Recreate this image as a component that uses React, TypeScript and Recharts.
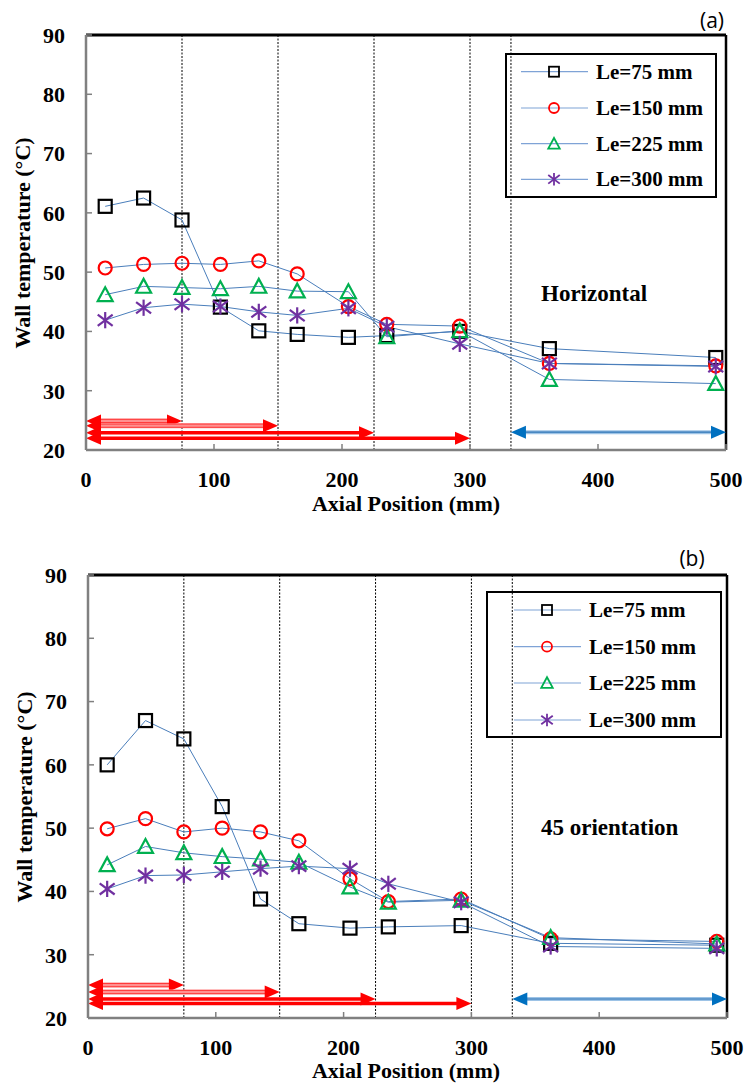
import React from 'react';
import { LineChart, Line, XAxis, YAxis, ReferenceLine, Customized } from 'recharts';

// ---------- data ----------
const positions = [15, 45, 75, 105, 135, 165, 205, 235, 292, 362, 492];

const horiz75 = [61.1, 62.5, 58.8, 44.1, 40.1, 39.5, 39.0, 39.3, 40.0, 37.1, 35.6];
const horiz150 = [50.7, 51.3, 51.5, 51.3, 51.9, 49.7, 44.2, 41.2, 40.9, 34.6, 34.2];
const horiz225 = [46.2, 47.6, 47.4, 47.2, 47.6, 46.8, 46.7, 39.1, 40.1, 31.9, 31.2];
const horiz300 = [41.9, 44.0, 44.6, 44.2, 43.3, 42.7, 43.9, 40.8, 37.9, 34.6, 34.1];

const incl75 = [60.0, 67.0, 64.1, 53.4, 38.8, 34.9, 34.2, 34.4, 34.6, 31.8, 31.5];
const incl150 = [49.9, 51.5, 49.4, 50.0, 49.4, 48.0, 42.0, 38.4, 38.8, 32.5, 32.1];
const incl225 = [44.2, 47.1, 46.1, 45.5, 45.1, 44.6, 40.7, 38.3, 38.6, 32.7, 31.7];
const incl300 = [40.4, 42.5, 42.6, 43.1, 43.6, 44.0, 43.6, 41.2, 38.3, 31.3, 31.0];

const seriesKeys = ['le75', 'le150', 'le225', 'le300'];
const seriesNames = ['Le=75 mm', 'Le=150 mm', 'Le=225 mm', 'Le=300 mm'];

const xTicks = [0, 100, 200, 300, 400, 500];
const yTicks = [20, 30, 40, 50, 60, 70, 80, 90];

const sectionBounds = [75, 150, 225, 300, 332];
const evapLengths = [75, 150, 225, 300];
const evapArrowYsA = [24.9, 24.1, 22.9, 22.0];
const evapArrowYsB = [25.2, 24.1, 23.0, 22.3];
const condenserRange = [332, 500];
const condenserArrowY = 23;

// ---------- styles ----------
const SERIF = 'Liberation Serif';
const LINE_COLOR = '#4A7EBB';
const COLORS = { sq: '#000000', ci: '#FF0000', tr: '#00B050', st: '#7030A0' };

const buildRows = (a: number[], b: number[], c: number[], d: number[]) =>
  positions.map((x, i) => ({ x, le75: a[i], le150: b[i], le225: c[i], le300: d[i] }));

const horizRows = buildRows(horiz75, horiz150, horiz225, horiz300);
const inclRows = buildRows(incl75, incl150, incl225, incl300);

// ---------- markers ----------
const drawMarker = (kind: number, cx: number, cy: number, s: number, sw: number, key?: string) => {
  if (kind === 0) {
    return (
      <rect key={key} x={cx - s} y={cy - s} width={2 * s} height={2 * s} fill="none" stroke={COLORS.sq} strokeWidth={sw} />
    );
  }
  if (kind === 1) {
    return <circle key={key} cx={cx} cy={cy} r={s} fill="none" stroke={COLORS.ci} strokeWidth={sw} />;
  }
  if (kind === 2) {
    const h = s * 1.15;
    return (
      <polygon
        key={key}
        points={`${cx},${cy - h} ${cx - h},${cy + h * 0.85} ${cx + h},${cy + h * 0.85}`}
        fill="none"
        stroke={COLORS.tr}
        strokeWidth={sw}
        strokeLinejoin="miter"
      />
    );
  }
  const v = s * 1.25;
  const d = s * 1.15;
  return (
    <g key={key} stroke={COLORS.st} strokeWidth={sw}>
      <line x1={cx} y1={cy - v} x2={cx} y2={cy + v} />
      <line x1={cx - d} y1={cy - d * 0.75} x2={cx + d} y2={cy + d * 0.75} />
      <line x1={cx - d} y1={cy + d * 0.75} x2={cx + d} y2={cy - d * 0.75} />
    </g>
  );
};

const makeDot = (kind: number) => (props: any) => {
  const { cx, cy, index } = props;
  if (cx == null || cy == null) return <g key={`e-${kind}-${index}`} />;
  return drawMarker(kind, cx, cy, 6.5, 2.2, `m-${kind}-${index}`);
};

// ---------- arrows ----------
const makeArrow = (kind: 'light' | 'solid' | 'blue') => (props: any) => {
  const { x1, y1, x2 } = props;
  const left = Math.min(x1, x2);
  const right = Math.max(x1, x2);
  const y = y1;
  const hl = 15;
  const hh = 6.5;
  const headColor = kind === 'blue' ? '#0070C0' : '#FF0000';
  let body: React.ReactNode;
  if (kind === 'light') {
    body = (
      <g>
        <line x1={left + hl - 2} y1={y} x2={right - hl + 2} y2={y} stroke="#FF9090" strokeWidth={5} />
        <line x1={left + hl - 2} y1={y - 1.6} x2={right - hl + 2} y2={y - 1.6} stroke="#FF3030" strokeWidth={0.9} />
        <line x1={left + hl - 2} y1={y + 1.6} x2={right - hl + 2} y2={y + 1.6} stroke="#FF3030" strokeWidth={0.9} />
      </g>
    );
  } else if (kind === 'solid') {
    body = <line x1={left + hl - 2} y1={y} x2={right - hl + 2} y2={y} stroke="#FF0000" strokeWidth={3.5} />;
  } else {
    body = (
      <g>
        <line x1={left + hl - 2} y1={y} x2={right - hl + 2} y2={y} stroke="#9DC3E6" strokeWidth={4} />
        <line x1={left + hl - 2} y1={y} x2={right - hl + 2} y2={y} stroke="#2E75B6" strokeWidth={1.2} />
      </g>
    );
  }
  return (
    <g>
      {body}
      <polygon points={`${left},${y} ${left + hl},${y - hh} ${left + hl},${y + hh}`} fill={headColor} />
      <polygon points={`${right},${y} ${right - hl},${y - hh} ${right - hl},${y + hh}`} fill={headColor} />
    </g>
  );
};

// ---------- decorations (legend, titles) ----------
type Deco = {
  panelLabel: string;
  panelLabelX: number;
  panelLabelY: number;
  legendBox: [number, number, number, number];
  legendRows: number[];
  legendLine: [number, number];
  legendMarkerX: number;
  legendTextX: number;
  note: string;
  noteX: number;
  noteY: number;
  yTitleX: number;
  yTitleY: number;
  xTitleX: number;
  xTitleY: number;
};

const serifBold = { fontFamily: SERIF, fontWeight: 700 } as React.CSSProperties;

const Decorations = (d: Deco) => () => (
  <g>
    <text x={d.panelLabelX} y={d.panelLabelY} textAnchor="middle" dominantBaseline="central"
      style={{ fontFamily: 'Open Sans' }} fontSize={21} fill="#000">{d.panelLabel}</text>
    <rect x={d.legendBox[0]} y={d.legendBox[1]} width={d.legendBox[2]} height={d.legendBox[3]}
      fill="#fff" stroke="#000" strokeWidth={2} />
    {seriesNames.map((name, i) => (
      <g key={name}>
        <line x1={d.legendLine[0]} y1={d.legendRows[i]} x2={d.legendLine[1]} y2={d.legendRows[i]} stroke="#7FA3D6" strokeWidth={1.2} />
        {drawMarker(i, d.legendMarkerX, d.legendRows[i], 5, 1.8)}
        <text x={d.legendTextX} y={d.legendRows[i]} dominantBaseline="central" style={serifBold}
          fontSize={21} fill="#000">{name}</text>
      </g>
    ))}
    <text x={d.noteX} y={d.noteY} dominantBaseline="central" style={serifBold}
      fontSize={23} fill="#000">{d.note}</text>
    <text x={d.yTitleX} y={d.yTitleY} textAnchor="middle" dominantBaseline="central"
      transform={`rotate(-90 ${d.yTitleX} ${d.yTitleY})`} style={serifBold}
      fontSize={22} fill="#000">Wall temperature (°C)</text>
    <text x={d.xTitleX} y={d.xTitleY} textAnchor="middle" dominantBaseline="central" style={serifBold}
      fontSize={22} fill="#000">Axial Position (mm)</text>
  </g>
);

const tickStyle = { fill: '#000', fontSize: 22, style: serifBold } as any;

type PanelProps = {
  rows: any[];
  height: number;
  margin: { top: number; right: number; bottom: number; left: number };
  arrowYs: number[];
  deco: Deco;
};

const Panel = ({ rows, height, margin, arrowYs, deco }: PanelProps) => (
  <LineChart width={748} height={height} data={rows} margin={margin}>
    <XAxis
      type="number"
      dataKey="x"
      domain={[0, 500]}
      ticks={xTicks}
      interval={0}
      height={40}
      tickSize={-6}
      tickMargin={27}
      axisLine={{ stroke: '#808080', strokeWidth: 2.5 }}
      tickLine={{ stroke: '#808080', strokeWidth: 1.5 }}
      tick={tickStyle}
    />
    <YAxis
      type="number"
      domain={[20, 90]}
      ticks={yTicks}
      interval={0}
      width={66}
      tickSize={-6}
      tickMargin={27}
      axisLine={{ stroke: '#808080', strokeWidth: 2.5 }}
      tickLine={{ stroke: '#808080', strokeWidth: 1.5 }}
      tick={tickStyle}
    />
    {sectionBounds.map((b) => (
      <ReferenceLine key={`sb-${b}`} x={b} stroke="#000" strokeWidth={1} strokeDasharray="2 1.5" />
    ))}
    <ReferenceLine y={90} stroke="#000" strokeWidth={3} />
    <ReferenceLine x={500} stroke="#000" strokeWidth={2.5} />
    {evapLengths.map((len, i) => (
      <ReferenceLine
        key={`ev-${len}`}
        segment={[{ x: 0, y: arrowYs[i] }, { x: len, y: arrowYs[i] }]}
        shape={makeArrow(i < 2 ? 'light' : 'solid')}
      />
    ))}
    <ReferenceLine
      segment={[{ x: condenserRange[0], y: condenserArrowY }, { x: condenserRange[1], y: condenserArrowY }]}
      shape={makeArrow('blue')}
    />
    {seriesKeys.map((k, i) => (
      <Line
        key={k}
        dataKey={k}
        name={seriesNames[i]}
        stroke={LINE_COLOR}
        strokeWidth={1}
        dot={makeDot(i)}
        activeDot={false}
        isAnimationActive={false}
      />
    ))}
    <Customized component={Decorations(deco)} />
  </LineChart>
);

const decoA: Deco = {
  panelLabel: '(a)',
  panelLabelX: 712,
  panelLabelY: 20,
  legendBox: [506, 54, 210, 143],
  legendRows: [71.7, 108, 143.7, 179.3],
  legendLine: [521, 588],
  legendMarkerX: 554,
  legendTextX: 596,
  note: 'Horizontal',
  noteX: 541,
  noteY: 293,
  yTitleX: 22,
  yTitleY: 243,
  xTitleX: 406,
  xTitleY: 503,
};

const decoB: Deco = {
  panelLabel: '(b)',
  panelLabelX: 692,
  panelLabelY: 18,
  legendBox: [487, 52, 234, 145],
  legendRows: [70, 106.7, 143, 180],
  legendLine: [514, 581],
  legendMarkerX: 547,
  legendTextX: 589,
  note: '45 orientation',
  noteX: 541,
  noteY: 287,
  yTitleX: 24,
  yTitleY: 257,
  xTitleX: 406,
  xTitleY: 530,
};

export default function App() {
  return (
    <div style={{ position: 'absolute', left: 0, top: 0, width: 748, height: 1084, background: '#fff' }}>
      <div style={{ position: 'absolute', left: 0, top: 0 }}>
        <Panel rows={horizRows} height={520} margin={{ top: 35, right: 22, bottom: 30, left: 20 }}
          arrowYs={evapArrowYsA} deco={decoA} />
      </div>
      <div style={{ position: 'absolute', left: 0, top: 540 }}>
        <Panel rows={inclRows} height={544} margin={{ top: 35, right: 21, bottom: 26, left: 22 }}
          arrowYs={evapArrowYsB} deco={decoB} />
      </div>
    </div>
  );
}
